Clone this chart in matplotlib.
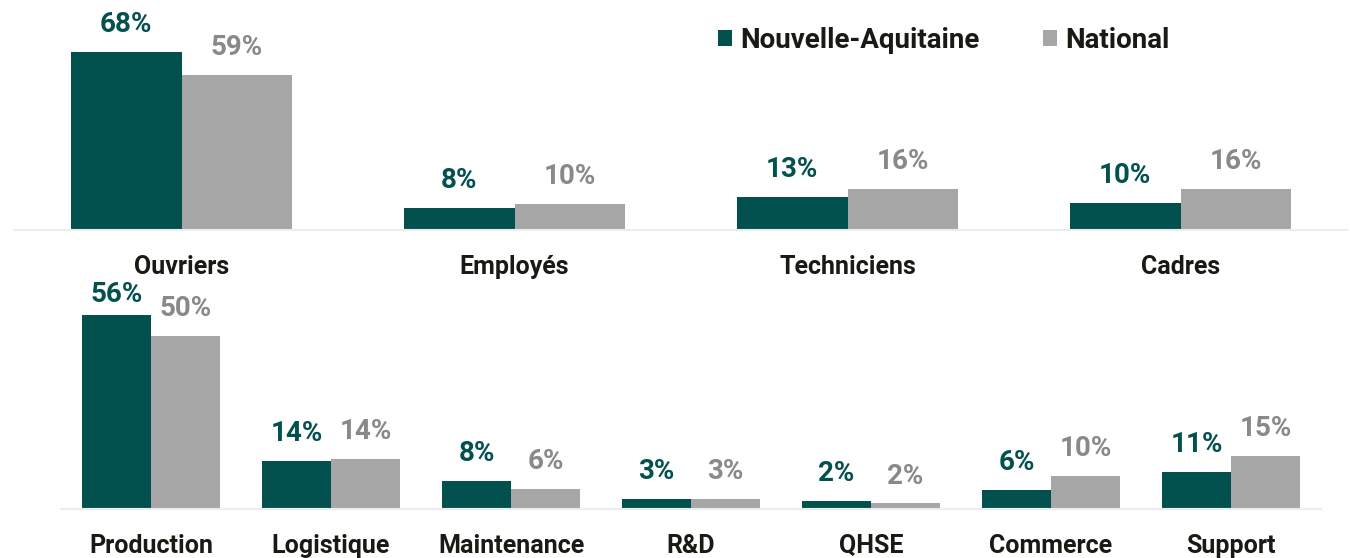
import numpy as np
import matplotlib
matplotlib.use('Agg')
import matplotlib.pyplot as plt

plt.rcParams['font.family'] = ['Roboto', 'DejaVu Sans']
plt.rcParams['font.weight'] = 'bold'

# catégories socio-professionnelles
cat_top = ['Ouvriers', 'Employés', 'Techniciens', 'Cadres']
na_top = [67.8, 8.3, 12.6, 10.4]
nat_top = [59.0, 9.9, 15.6, 15.6]

# familles de métiers
cat_bot = ['Production', 'Logistique', 'Maintenance', 'R&D', 'QHSE', 'Commerce', 'Support']
na_bot = [56.0, 13.8, 8.2, 2.8, 2.2, 5.6, 10.8]
nat_bot = [50.0, 14.4, 5.9, 2.8, 1.6, 9.6, 15.4]

TEAL = '#03514F'
GREY = '#A6A6A6'
GREY_TXT = '#898989'
TXT = '#1A1A14'

W, H = 1350, 558
fig = plt.figure(figsize=(W / 100, H / 100), dpi=100)

ax1 = fig.add_axes([15 / W, 1 - 230 / H, 1332 / W, 230 / H])
ax2 = fig.add_axes([61 / W, 1 - 509 / H, 1260 / W, 221 / H])


def draw(ax, cats, na, nat, bw, ppu, hpx):
    # ppu = pixels per percent, hpx = axes height in pixels
    ytop = hpx / ppu
    x = np.arange(len(cats))
    b1 = ax.bar(x - bw / 2, na, bw, color=TEAL, label='Nouvelle-Aquitaine')
    b2 = ax.bar(x + bw / 2, nat, bw, color=GREY, label='National')
    for bars, col in ((b1, TEAL), (b2, GREY_TXT)):
        for r in bars:
            v = r.get_height()
            room = (ytop - v) * ppu
            off = min(10, (room - 20) / 1.389)
            ax.annotate(f'{v:.0f}%', (r.get_x() + r.get_width() / 2, v),
                        xytext=(0, off), textcoords='offset points',
                        ha='center', va='bottom', fontsize=20,
                        fontweight='bold', color=col)
    ax.set_xlim(-0.5, len(cats) - 0.5)
    ax.set_ylim(0, ytop)
    ax.set_xticks(x)
    ax.set_xticklabels(cats, fontsize=18, fontweight='bold', color=TXT)
    ax.tick_params(axis='x', length=0, pad=18)
    ax.set_yticks([])
    for s in ('top', 'left', 'right'):
        ax.spines[s].set_visible(False)
    ax.spines['bottom'].set_color('#ECECEC')
    ax.spines['bottom'].set_linewidth(1.5)
    ax.patch.set_alpha(0)


draw(ax1, cat_top, na_top, nat_top, 0.333, 2.63, 230)
draw(ax2, cat_bot, na_bot, nat_bot, 0.383, 3.46, 221)

ax1.legend(loc='center left', bbox_to_anchor=(718 / W, 1 - 40 / H),
           bbox_transform=fig.transFigure, ncol=2, frameon=False,
           handlelength=0.5, handleheight=0.5, handletextpad=0.3,
           columnspacing=2.3, borderaxespad=0, borderpad=0,
           prop={'size': 20, 'weight': 'bold'}, labelcolor=TXT)

fig.savefig('out.png', dpi=100)
